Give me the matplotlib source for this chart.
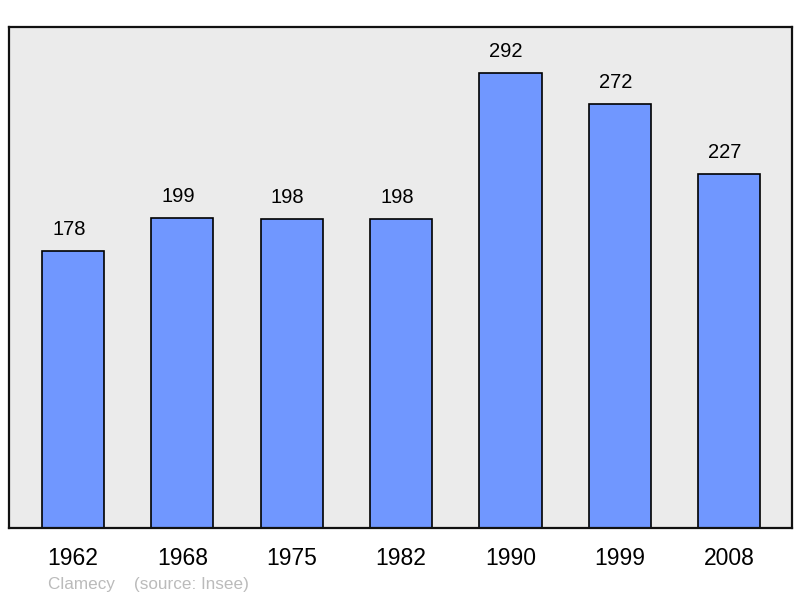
import matplotlib
matplotlib.use("Agg")
import matplotlib.pyplot as plt

years = ["1962", "1968", "1975", "1982", "1990", "1999", "2008"]
population = [178, 199, 198, 198, 292, 272, 227]

plt.rcParams['font.family'] = ['Liberation Sans', 'DejaVu Sans']

fig = plt.figure(figsize=(8, 5.98), dpi=100)
ax = fig.add_axes([9/800, 1 - 528/598, 783/800, 501/598])
ax.set_facecolor('#ebebeb')

x = list(range(len(years)))
ax.bar(x, population, width=0.57, color='#7097ff', edgecolor='black', linewidth=1.2, zorder=2)
for i, v in enumerate(population):
    ax.annotate(str(v), (i, v), xytext=(-3, 11.5), textcoords='offset points',
                ha='center', va='baseline', fontsize=14.5)

ax.set_xlim(-0.585, 6.575)
ax.set_ylim(0, 321.5)
ax.set_xticks(x)
ax.set_xticklabels(years, fontsize=16.5)
ax.tick_params(axis='x', length=0, pad=14)
ax.set_yticks([])
for s in ax.spines.values():
    s.set_linewidth(1.6)
    s.set_color('#111111')

fig.text(48/800, 1 - 584/598, "Clamecy    (source: Insee)", color='#bbbbbb',
         fontsize=12.3, va='center', ha='left')

fig.savefig("out.png", dpi=100)
